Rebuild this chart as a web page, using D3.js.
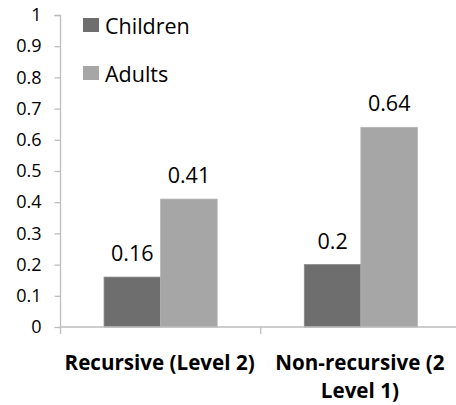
<!DOCTYPE html>
<html>
<head>
<meta charset="utf-8">
<script src="https://cdn.jsdelivr.net/npm/d3@7"></script>
<style>
  html, body { margin: 0; padding: 0; background: #fff; }
  svg { display: block; }
  text { font-family: "Open Sans", sans-serif; fill: #000; }
</style>
</head>
<body>
<svg id="chart" width="456" height="405"></svg>
<script>
const categories = ["Recursive (Level 2)", "Non-recursive (2|Level 1)"];
const series = ["Children", "Adults"];
const children = [0.16, 0.2];
const adults = [0.41, 0.64];
const valueLabels = [["0.16", "0.41"], ["0.2", "0.64"]];
const yTicks = [0, 0.1, 0.2, 0.3, 0.4, 0.5, 0.6, 0.7, 0.8, 0.9, 1];
const yTickLabels = ["0", "0.1", "0.2", "0.3", "0.4", "0.5", "0.6", "0.7", "0.8", "0.9", "1"];
const colors = ["#6e6e6e", "#a6a6a6"];

const svg = d3.select("#chart");
const pLeft = 60.5, pRight = 461, pTop = 15, pBottom = 327;

const x0 = d3.scaleBand().domain(categories).range([pLeft, pRight]).padding(0);
const x1 = d3.scaleBand().domain(series).range([0, x0.bandwidth()]).paddingInner(0).paddingOuter(0.77);
const y = d3.scaleLinear().domain([0, 1]).range([pBottom, pTop]);

const data = categories.map((c, i) => ({cat: c, vals: [children[i], adults[i]], labels: valueLabels[i]}));

// bars
const groups = svg.selectAll("g.grp").data(data).join("g").attr("class", "grp")
  .attr("transform", d => `translate(${x0(d.cat)},0)`);
groups.selectAll("rect").data(d => d.vals.map((v, j) => ({s: series[j], v, j})))
  .join("rect")
  .attr("x", d => x1(d.s))
  .attr("y", d => y(d.v))
  .attr("width", x1.bandwidth())
  .attr("height", d => y(0) - y(d.v))
  .attr("fill", d => colors[d.j])
  .attr("stroke", d => d.j === 0 ? "#888" : "#b4b4b4")
  .attr("stroke-width", 0.8);
groups.selectAll("text.val").data(d => d.vals.map((v, j) => ({s: series[j], v, j, l: d.labels[j]})))
  .join("text").attr("class", "val")
  .attr("x", d => x1(d.s) + x1.bandwidth() / 2)
  .attr("y", d => y(d.v) - 16)
  .attr("text-anchor", "middle")
  .style("font-size", "21.5px")
  .text(d => d.l);

// y axis
const yAxis = d3.axisLeft(y).tickValues(yTicks).tickFormat((d, i) => yTickLabels[i]).tickSize(6).tickPadding(13);
const gy = svg.append("g").attr("transform", `translate(${pLeft},0)`).call(yAxis);
gy.selectAll("path, line").attr("stroke", "#bdbdbd").attr("stroke-width", 1.3);
gy.select(".domain").attr("d", `M-6,${pTop + 0.5}H0V${pBottom}`);
gy.selectAll("text").style("font-size", "18px").style("font-family", "'Open Sans', sans-serif").attr("fill", "#000");

// x axis
const xAxis = d3.axisBottom(x0).tickSize(0).tickFormat("");
const gx = svg.append("g").attr("transform", `translate(0,${pBottom})`).call(xAxis);
gx.select(".domain").attr("stroke", "#bdbdbd").attr("stroke-width", 1.3).attr("d", `M${pLeft},0H${pRight}`);
gx.selectAll(".tick line").remove();
gx.selectAll("line.sep").data(categories.slice(1)).join("line").attr("class", "sep")
  .attr("x1", d => x0(d)).attr("x2", d => x0(d)).attr("y1", 0).attr("y2", 7)
  .attr("stroke", "#bdbdbd").attr("stroke-width", 1.3);
gx.selectAll("line.edge").data([pLeft]).join("line").attr("class", "edge")
  .attr("x1", d => d).attr("x2", d => d).attr("y1", 0).attr("y2", 7)
  .attr("stroke", "#bdbdbd").attr("stroke-width", 1.3);

// category labels (each line its own text element)
const catLines = [];
categories.forEach(c => c.split("|").forEach((ln, k) => catLines.push({c, ln, k})));
svg.selectAll("text.cat").data(catLines).join("text").attr("class", "cat")
  .attr("text-anchor", "middle")
  .attr("x", d => x0(d.c) + x0.bandwidth() / 2 - 1)
  .attr("y", d => 369.5 + d.k * 28)
  .style("font-size", "20.6px").style("font-weight", "bold")
  .text(d => d.ln);

// legend
const leg = svg.append("g");
series.forEach((s, i) => {
  leg.append("rect").attr("x", 83).attr("y", 18 + i * 48).attr("width", 16).attr("height", 14).attr("fill", colors[i]);
  leg.append("text").attr("x", 105).attr("y", 34 + i * 48).style("font-size", "21.5px").text(s);
});
</script>
</body>
</html>
